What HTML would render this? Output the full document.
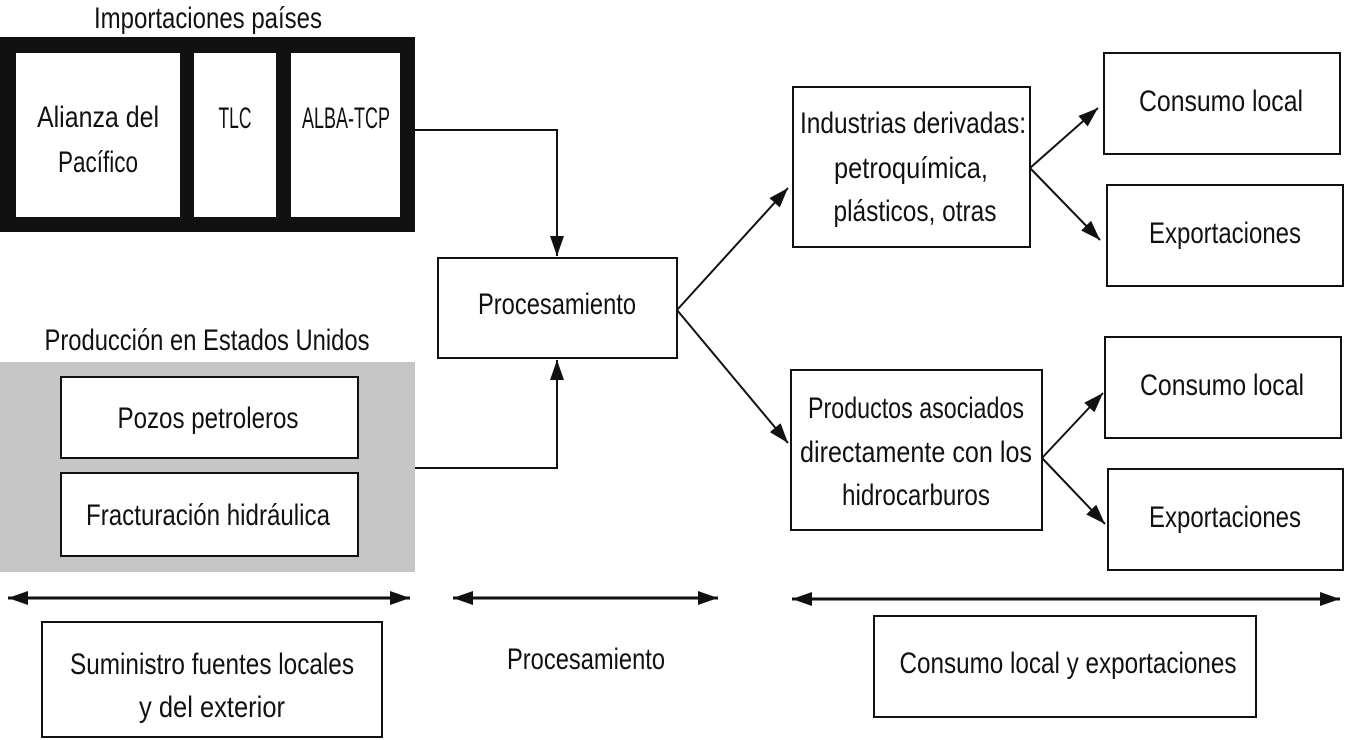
<!DOCTYPE html>
<html><head><meta charset="utf-8"><style>
html,body{margin:0;padding:0;background:#fff;}
svg{display:block}
text{font-family:"Liberation Sans Narrow","Liberation Sans",sans-serif;fill:#111;text-anchor:middle;}
</style></head><body>
<svg width="1346" height="740" viewBox="0 0 1346 740" xmlns="http://www.w3.org/2000/svg">
<defs>
<marker id="b" viewBox="0 0 10 10" refX="10" refY="5" markerWidth="20" markerHeight="20" markerUnits="userSpaceOnUse" orient="auto-start-reverse">
<path d="M0,1.5 L10,5 L0,8.5 z" fill="#111"/></marker>
</defs>
<g font-size="30">
<text x="208" y="28" textLength="228" lengthAdjust="spacingAndGlyphs">Importaciones países</text>
<rect x="0" y="37" width="415" height="195" fill="#111"/>
<rect x="16" y="53" width="164" height="164" fill="#fff"/>
<rect x="194" y="53" width="82" height="164" fill="#fff"/>
<rect x="291" y="53" width="109" height="164" fill="#fff"/>
<text x="98" y="127" textLength="122" lengthAdjust="spacingAndGlyphs">Alianza del</text>
<text x="98" y="172" textLength="80" lengthAdjust="spacingAndGlyphs">Pacífico</text>
<text x="235" y="128" font-size="30" textLength="33" lengthAdjust="spacingAndGlyphs">TLC</text>
<text x="346" y="128" font-size="30" textLength="88" lengthAdjust="spacingAndGlyphs">ALBA-TCP</text>

<text x="207" y="350" textLength="325" lengthAdjust="spacingAndGlyphs">Producción en Estados Unidos</text>
<rect x="0" y="362" width="415" height="210" fill="#c6c6c6"/>
<rect x="61" y="377" width="297" height="81" fill="#fff" stroke="#111" stroke-width="2"/>
<rect x="61" y="473" width="297" height="83" fill="#fff" stroke="#111" stroke-width="2"/>
<text x="208" y="428" textLength="181" lengthAdjust="spacingAndGlyphs">Pozos petroleros</text>
<text x="208" y="525" textLength="244" lengthAdjust="spacingAndGlyphs">Fracturación hidráulica</text>

<rect x="438" y="258" width="239" height="100" fill="#fff" stroke="#111" stroke-width="2"/>
<text x="557" y="314" textLength="158" lengthAdjust="spacingAndGlyphs">Procesamiento</text>

<path d="M415,130 H557 V256" fill="none" stroke="#111" stroke-width="2" marker-end="url(#b)"/>
<path d="M415,468 H557 V360" fill="none" stroke="#111" stroke-width="2" marker-end="url(#b)"/>

<rect x="793" y="87" width="237" height="160" fill="#fff" stroke="#111" stroke-width="2"/>
<text x="913" y="133" textLength="226" lengthAdjust="spacingAndGlyphs">Industrias derivadas:</text>
<text x="911" y="178" textLength="154" lengthAdjust="spacingAndGlyphs">petroquímica,</text>
<text x="915" y="221" textLength="163" lengthAdjust="spacingAndGlyphs">plásticos, otras</text>

<rect x="791" y="370" width="251" height="160" fill="#fff" stroke="#111" stroke-width="2"/>
<text x="916" y="418" textLength="216" lengthAdjust="spacingAndGlyphs">Productos asociados</text>
<text x="916" y="462" textLength="232" lengthAdjust="spacingAndGlyphs">directamente con los</text>
<text x="916" y="505" textLength="148" lengthAdjust="spacingAndGlyphs">hidrocarburos</text>

<rect x="1104" y="53" width="236" height="101" fill="#fff" stroke="#111" stroke-width="2"/>
<text x="1221" y="111" textLength="164" lengthAdjust="spacingAndGlyphs">Consumo local</text>
<rect x="1107" y="185" width="236" height="101" fill="#fff" stroke="#111" stroke-width="2"/>
<text x="1225" y="243" textLength="152" lengthAdjust="spacingAndGlyphs">Exportaciones</text>
<rect x="1105" y="337" width="236" height="101" fill="#fff" stroke="#111" stroke-width="2"/>
<text x="1222" y="395" textLength="164" lengthAdjust="spacingAndGlyphs">Consumo local</text>
<rect x="1108" y="469" width="235" height="101" fill="#fff" stroke="#111" stroke-width="2"/>
<text x="1225" y="527" textLength="152" lengthAdjust="spacingAndGlyphs">Exportaciones</text>

<g stroke="#111" stroke-width="2" fill="none">
<path d="M677,310 L788,188" marker-end="url(#b)"/>
<path d="M677,310 L788,443" marker-end="url(#b)"/>
<path d="M1030,168 L1098,108" marker-end="url(#b)"/>
<path d="M1030,168 L1100,240" marker-end="url(#b)"/>
<path d="M1042,458 L1103,393" marker-end="url(#b)"/>
<path d="M1042,458 L1105,524" marker-end="url(#b)"/>
<path d="M8,598 L410,598" stroke-width="3" marker-start="url(#b)" marker-end="url(#b)"/>
<path d="M453,598 L718,598" stroke-width="3" marker-start="url(#b)" marker-end="url(#b)"/>
<path d="M792,599 L1340,599" stroke-width="3" marker-start="url(#b)" marker-end="url(#b)"/>
</g>

<rect x="42" y="622" width="340" height="115" fill="#fff" stroke="#111" stroke-width="2"/>
<text x="212" y="674" textLength="284" lengthAdjust="spacingAndGlyphs">Suministro fuentes locales</text>
<text x="212" y="717" textLength="146" lengthAdjust="spacingAndGlyphs">y del exterior</text>
<text x="586" y="669" textLength="158" lengthAdjust="spacingAndGlyphs">Procesamiento</text>
<rect x="874" y="616" width="382" height="101" fill="#fff" stroke="#111" stroke-width="2"/>
<text x="1068" y="673" textLength="337" lengthAdjust="spacingAndGlyphs">Consumo local y exportaciones</text>
</g>
</svg>
</body></html>
